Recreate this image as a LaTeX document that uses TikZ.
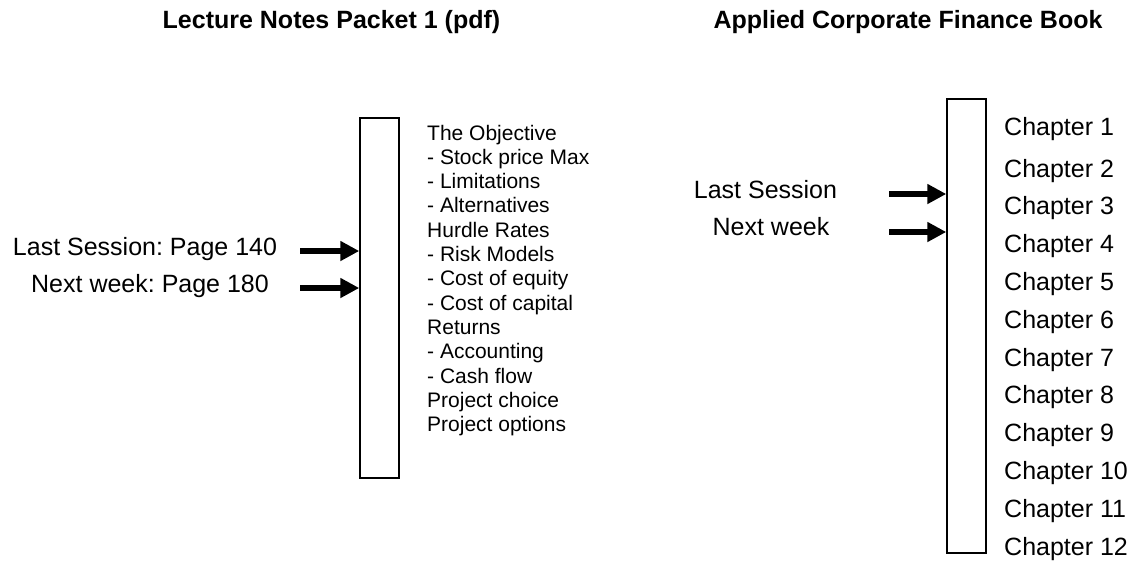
\documentclass[tikz,border=0pt]{standalone}
\usepackage{fontspec}
\setmainfont{Liberation Sans}
\usetikzlibrary{arrows.meta}
\frenchspacing
\begin{document}
\begin{tikzpicture}[x=1pt,y=-1pt,
  title/.style={inner sep=0pt,anchor=base,font=\fontsize{25}{30}\selectfont\bfseries},
  lbl/.style={inner sep=0pt,anchor=base,font=\fontsize{25}{30}\selectfont},
  item/.style={inner sep=0pt,anchor=base west,font=\fontsize{21}{25}\selectfont},
  chap/.style={inner sep=0pt,anchor=base west,font=\fontsize{25}{30}\selectfont},
  bar/.style={draw,line width=1.5pt,inner sep=0pt,minimum width=39pt},
  arr/.style={line width=5.5pt,-{Triangle[length=19pt,width=19pt]}}]
\useasboundingbox (0,0) rectangle (1134,560);
% titles
\node[title] (t1) at (331.5,28) {Lecture Notes Packet 1 (pdf)};
\node[title] (t2) at (908,28) {Applied Corporate Finance Book};
% left column
\node[bar,minimum height=360pt] (lbox) at (379.5,298) {};
\node[lbl] (lls) at (145,255) {Last Session: Page 140};
\node[lbl] (lnw) at (150,292.5) {Next week: Page 180};
\coordinate (la1) at (300,251);
\coordinate (la2) at (300,288);
\draw[arr] (la1) -- (lbox.west |- la1);
\draw[arr] (la2) -- (lbox.west |- la2);
\foreach \t [count=\i from 0] in {The Objective,- Stock price Max,- Limitations,- Alternatives,Hurdle Rates,- Risk Models,- Cost of equity,- Cost of capital,Returns,- Accounting,- Cash flow,Project choice,Project options}
  \node[item] (it\i) at (427,140+24.33*\i) {\t};
% right column
\node[bar,minimum height=454pt] (rbox) at (966.5,326) {};
\node[lbl] (rls) at (765.5,198) {Last Session};
\node[lbl] (rnw) at (771,235) {Next week};
\coordinate (ra1) at (889,194);
\coordinate (ra2) at (889,232);
\draw[arr] (ra1) -- (rbox.west |- ra1);
\draw[arr] (ra2) -- (rbox.west |- ra2);
\node[chap] (c1) at (1004,135) {Chapter 1};
\foreach \i in {2,...,12}
  \node[chap] (c\i) at (1004,177+37.8*\i-75.6) {Chapter \i};
\end{tikzpicture}
\end{document}
